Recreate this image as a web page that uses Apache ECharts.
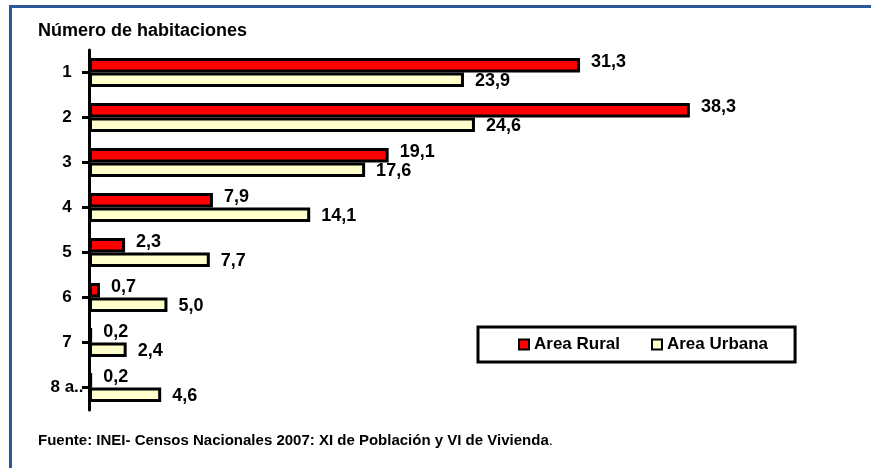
<!DOCTYPE html>
<html>
<head>
<meta charset="utf-8">
<script src="https://cdn.jsdelivr.net/npm/echarts@6/dist/echarts.min.js"></script>
<style>
  html, body { margin: 0; padding: 0; background: #fff; }
  #chart { width: 871px; height: 468px; }
</style>
</head>
<body>
<div id="chart"></div>
<script>
const categories = ["1", "2", "3", "4", "5", "6", "7", "8 a.."];
const rural = [31.3, 38.3, 19.1, 7.9, 2.3, 0.7, 0.2, 0.2];
const urbana = [23.9, 24.6, 17.6, 14.1, 7.7, 5.0, 2.4, 4.6];

const FONT = "'Liberation Sans', Arial, sans-serif";
const fmt = p => p.value.toFixed(1).replace(".", ",");

const chart = echarts.init(document.getElementById("chart"));

const valueLabel = {
  show: true,
  position: "right",
  distance: 11,
  fontFamily: FONT,
  fontWeight: "bold",
  fontSize: 18,
  color: "#000",
  formatter: fmt
};

chart.setOption({
  animation: false,
  backgroundColor: "#fff",
  grid: { left: 89, right: 76, top: 50, height: 360 },
  xAxis: {
    type: "value",
    min: 0,
    max: 45,
    show: false
  },
  yAxis: {
    type: "category",
    data: categories,
    inverse: true,
    axisLine: { show: true, lineStyle: { color: "#000", width: 3 } },
    axisTick: {
      show: true,
      alignWithLabel: true,
      inside: false,
      length: 7,
      lineStyle: { color: "#000", width: 3 }
    },
    axisLabel: {
      align: "center",
      margin: 22,
      fontFamily: FONT,
      fontWeight: "bold",
      fontSize: 17,
      color: "#000"
    },
    splitLine: { show: false }
  },
  legend: {
    left: 478,
    top: 327,
    orient: "horizontal",
    padding: [9, 27, 9, 40],
    itemGap: 31,
    itemWidth: 10,
    itemHeight: 10,
    icon: "rect",
    borderColor: "#000",
    borderWidth: 3,
    backgroundColor: "#fff",
    textStyle: { fontFamily: FONT, fontWeight: "bold", fontSize: 17, color: "#000" },
    data: ["Area Rural", "Area Urbana"]
  },
  series: [
    {
      name: "Area Rural",
      type: "bar",
      data: rural,
      barWidth: 14.5,
      barGap: "0%",
      itemStyle: { color: "#FF0000", borderColor: "#000", borderWidth: 3 },
      label: Object.assign({}, valueLabel, { offset: [0, -3] })
    },
    {
      name: "Area Urbana",
      type: "bar",
      data: urbana,
      barWidth: 14.5,
      barGap: "0%",
      itemStyle: { color: "#FFFFCC", borderColor: "#000", borderWidth: 3 },
      label: Object.assign({}, valueLabel, { offset: [0, 1] })
    }
  ],
  graphic: [
    {
      type: "rect",
      shape: { x: 10.5, y: 6.5, width: 1000, height: 1000 },
      style: { fill: "none", stroke: "#2B5797", lineWidth: 3 },
      silent: true
    },
    {
      type: "text",
      left: 38,
      top: 22,
      style: {
        text: "Número de habitaciones",
        fontFamily: FONT,
        fontWeight: "bold",
        fontSize: 18,
        fill: "#000"
      }
    },
    {
      type: "text",
      left: 38,
      top: 433,
      style: {
        text: "{b|Fuente: INEI- Censos Nacionales 2007: XI de Población y VI de Vivienda}{n|.}",
        rich: {
          b: { fontFamily: FONT, fontWeight: "bold", fontSize: 15, fill: "#000" },
          n: { fontFamily: FONT, fontWeight: "normal", fontSize: 15, fill: "#000" }
        }
      }
    }
  ]
});
</script>
</body>
</html>
